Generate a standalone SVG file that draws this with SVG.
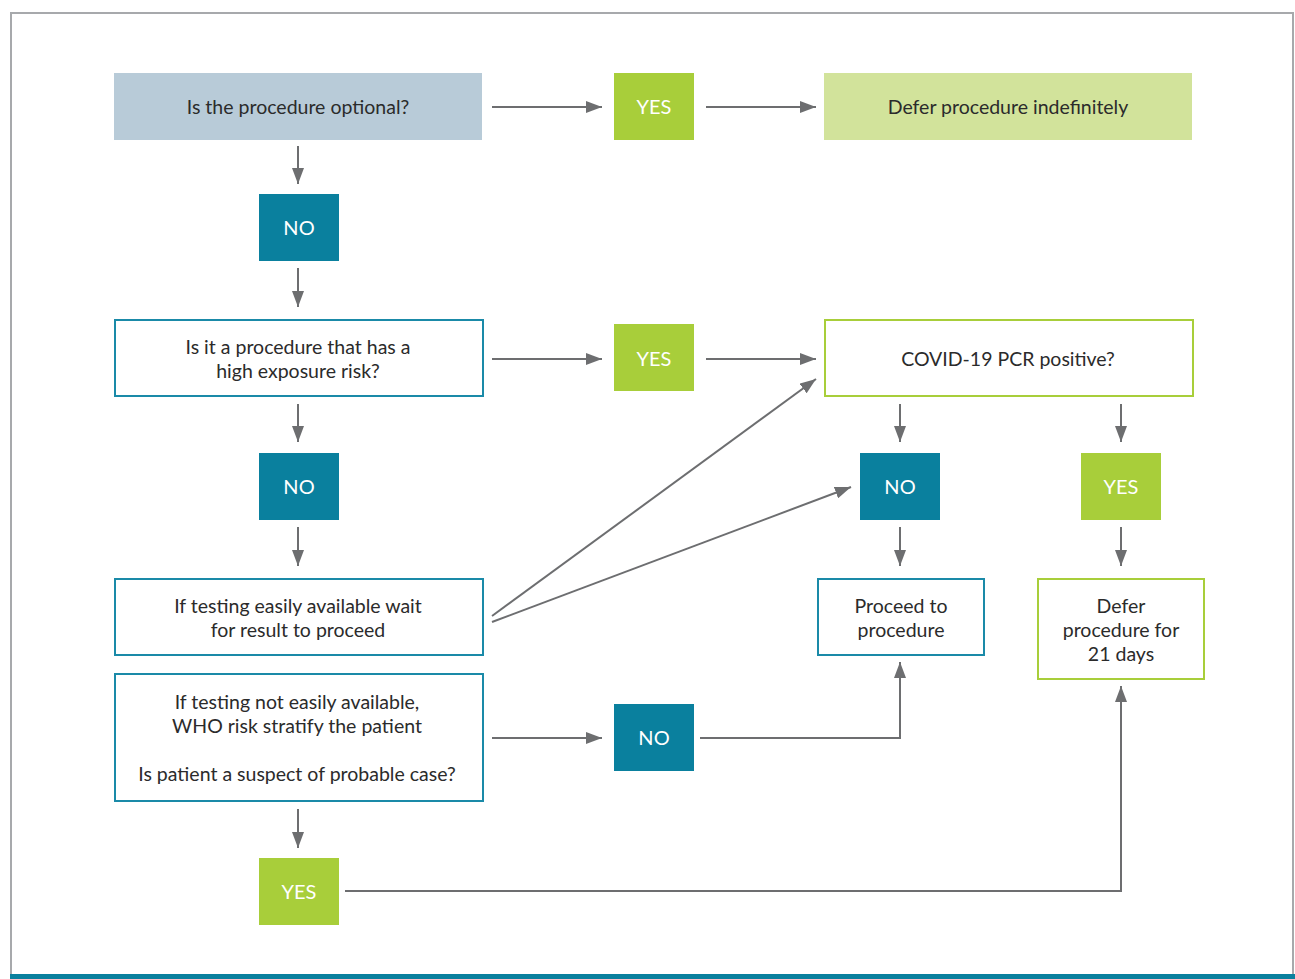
<svg xmlns="http://www.w3.org/2000/svg" width="1295" height="979" viewBox="0 0 1295 979">
<defs>
<marker id="ah" viewBox="0 0 16 12" refX="16" refY="6" markerWidth="16" markerHeight="12" markerUnits="userSpaceOnUse" orient="auto">
<path d="M0,0 L16,6 L0,12 Z" fill="#6d6e70"/>
</marker>
<style>
.t{font-family:Lato,"Open Sans",sans-serif;font-size:19.5px;fill:#2b2b2b;text-anchor:middle}
.l{font-family:Lato,"Open Sans",sans-serif;font-size:20px;fill:#ffffff;text-anchor:middle}
.c{stroke:#6d6e70;stroke-width:2;fill:none}
.ca{stroke:#6d6e70;stroke-width:2;fill:none;marker-end:url(#ah)}
.bt{fill:#ffffff;stroke:#1a8aa8;stroke-width:2}
.bg{fill:#ffffff;stroke:#a8ce3a;stroke-width:2}
.yes{fill:#a8ce3a}
.no{fill:#0a809e}
</style>
</defs>
<rect x="0" y="0" width="1295" height="979" fill="#ffffff"/>
<rect x="11" y="13" width="1282" height="970" fill="#ffffff" stroke="#a7a9ac" stroke-width="2"/>
<rect x="10" y="974" width="1285" height="5" fill="#0a809e"/>

<g id="connectors">
<line class="ca" x1="492" y1="107" x2="602" y2="107"/>
<line class="ca" x1="706" y1="107" x2="816" y2="107"/>
<line class="ca" x1="298" y1="146" x2="298" y2="184"/>
<line class="ca" x1="298" y1="268" x2="298" y2="307"/>
<line class="ca" x1="492" y1="359" x2="602" y2="359"/>
<line class="ca" x1="706" y1="359" x2="816" y2="359"/>
<line class="ca" x1="298" y1="404" x2="298" y2="442"/>
<line class="ca" x1="298" y1="527" x2="298" y2="566"/>
<line class="ca" x1="492" y1="616" x2="816" y2="379"/>
<line class="ca" x1="492" y1="622" x2="851" y2="487"/>
<line class="ca" x1="900" y1="404" x2="900" y2="442"/>
<line class="ca" x1="1121" y1="404" x2="1121" y2="442"/>
<line class="ca" x1="900" y1="527" x2="900" y2="566"/>
<line class="ca" x1="1121" y1="527" x2="1121" y2="566"/>
<line class="ca" x1="492" y1="738" x2="602" y2="738"/>
<polyline class="ca" points="700,738 900,738 900,662"/>
<line class="ca" x1="298" y1="809" x2="298" y2="848"/>
<polyline class="ca" points="345,891 1121,891 1121,686"/>
</g>

<g id="q-optional">
<rect x="114" y="73" width="368" height="67" fill="#b8cbd8"/>
<text class="t" x="298" y="114">Is the procedure optional?</text>
</g>
<g id="yes-1">
<rect class="yes" x="614" y="73" width="80" height="67"/>
<text class="l" x="654" y="114">YES</text>
</g>
<g id="defer-indef">
<rect x="824" y="73" width="368" height="67" fill="#d2e39b"/>
<text class="t" x="1008" y="114">Defer procedure indefinitely</text>
</g>
<g id="no-1">
<rect class="no" x="259" y="194" width="80" height="67"/>
<text class="l" x="299" y="235">NO</text>
</g>
<g id="q-exposure">
<rect class="bt" x="115" y="320" width="368" height="76"/>
<text class="t" x="298" y="354">Is it a procedure that has a</text>
<text class="t" x="298" y="378">high exposure risk?</text>
</g>
<g id="yes-2">
<rect class="yes" x="614" y="324" width="80" height="67"/>
<text class="l" x="654" y="366">YES</text>
</g>
<g id="q-pcr">
<rect class="bg" x="825" y="320" width="368" height="76"/>
<text class="t" x="1008" y="366">COVID-19 PCR positive?</text>
</g>
<g id="no-2">
<rect class="no" x="259" y="453" width="80" height="67"/>
<text class="l" x="299" y="494">NO</text>
</g>
<g id="no-3">
<rect class="no" x="860" y="453" width="80" height="67"/>
<text class="l" x="900" y="494">NO</text>
</g>
<g id="yes-3">
<rect class="yes" x="1081" y="453" width="80" height="67"/>
<text class="l" x="1121" y="494">YES</text>
</g>
<g id="testing-available">
<rect class="bt" x="115" y="579" width="368" height="76"/>
<text class="t" x="298" y="613">If testing easily available wait</text>
<text class="t" x="298" y="637">for result to proceed</text>
</g>
<g id="proceed">
<rect class="bt" x="818" y="579" width="166" height="76"/>
<text class="t" x="901" y="613">Proceed to</text>
<text class="t" x="901" y="637">procedure</text>
</g>
<g id="defer-21">
<rect class="bg" x="1038" y="579" width="166" height="100"/>
<text class="t" x="1121" y="613">Defer</text>
<text class="t" x="1121" y="637">procedure for</text>
<text class="t" x="1121" y="661">21 days</text>
</g>
<g id="testing-not-available">
<rect class="bt" x="115" y="674" width="368" height="127"/>
<text class="t" x="297" y="709">If testing not easily available,</text>
<text class="t" x="297" y="733">WHO risk stratify the patient</text>
<text class="t" x="297" y="781">Is patient a suspect of probable case?</text>
</g>
<g id="no-4">
<rect class="no" x="614" y="704" width="80" height="67"/>
<text class="l" x="654" y="745">NO</text>
</g>
<g id="yes-4">
<rect class="yes" x="259" y="858" width="80" height="67"/>
<text class="l" x="299" y="899">YES</text>
</g>
</svg>
